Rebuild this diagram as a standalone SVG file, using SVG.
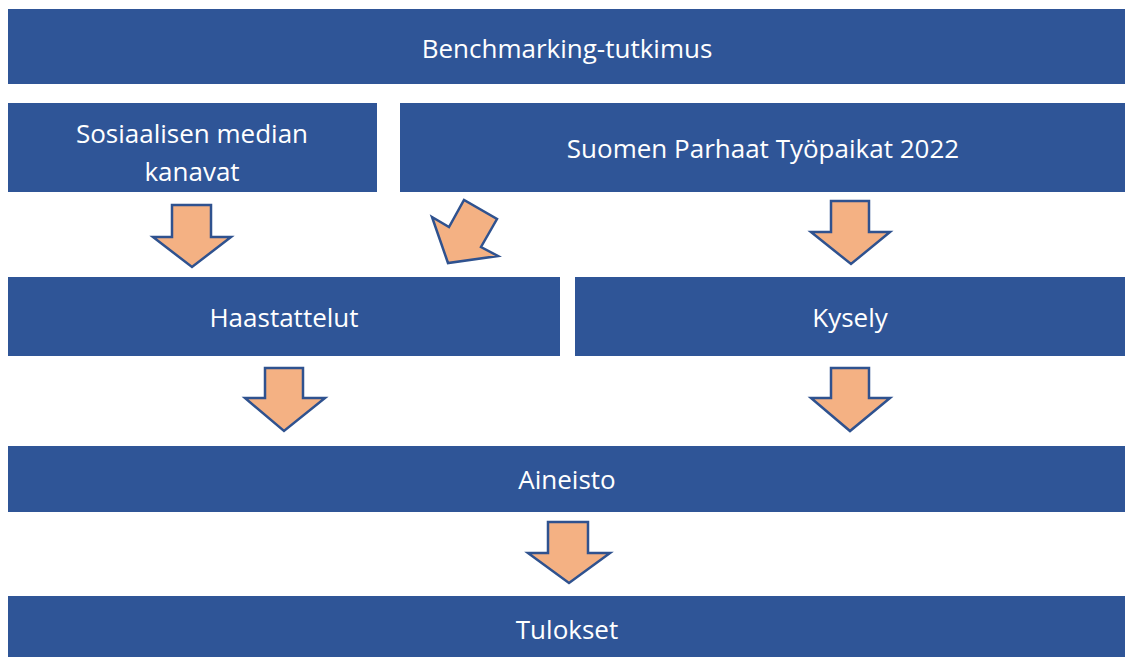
<svg xmlns="http://www.w3.org/2000/svg" width="1125" height="657" viewBox="0 0 1125 657">
<style>
.box{fill:#2F5597;}
.lbl{fill:#ffffff;font-family:"Open Sans","Liberation Sans",sans-serif;font-size:26px;text-anchor:middle;}
.arr{fill:#F4B183;stroke:#2F528F;stroke-width:2.5;stroke-linejoin:miter;}
</style>
<rect width="1125" height="657" fill="#ffffff"/>
<g id="benchmarking"><rect class="box" x="8" y="9" width="1117" height="75"/><text class="lbl" x="567" y="58">Benchmarking-tutkimus</text></g>
<g id="somekanavat"><rect class="box" x="8" y="103" width="369" height="89"/><text class="lbl" x="192" y="143">Sosiaalisen median</text><text class="lbl" x="192" y="181">kanavat</text></g>
<g id="spt2022"><rect class="box" x="400" y="103" width="725" height="89"/><text class="lbl" x="763" y="158">Suomen Parhaat Työpaikat 2022</text></g>
<g id="haastattelut"><rect class="box" x="8" y="277" width="552" height="79"/><text class="lbl" x="284" y="327">Haastattelut</text></g>
<g id="kysely"><rect class="box" x="575" y="277" width="550" height="79"/><text class="lbl" x="850" y="327">Kysely</text></g>
<g id="aineisto"><rect class="box" x="8" y="446" width="1117" height="66"/><text class="lbl" x="567" y="489">Aineisto</text></g>
<g id="tulokset"><rect class="box" x="8" y="596" width="1117" height="61"/><text class="lbl" x="567" y="639">Tulokset</text></g>
<g id="connectors">
<polygon class="arr" points="172,205 211,205 211,237 231,237 192,267 153,237 172,237"/>
<polygon class="arr" points="432,217 449,227 464,200 497,219 481,247 498,256 448,263"/>
<polygon class="arr" points="831,201 869,201 869,232 890,232 851,264 811,232 831,232"/>
<polygon class="arr" points="265,368 303,368 303,398 325,398 284,431 245,398 265,398"/>
<polygon class="arr" points="831,368 869,368 869,398 890,398 850,431 811,398 831,398"/>
<polygon class="arr" points="548,522 588,522 588,553 610,553 569,583 528,553 548,553"/>
</g>
</svg>
